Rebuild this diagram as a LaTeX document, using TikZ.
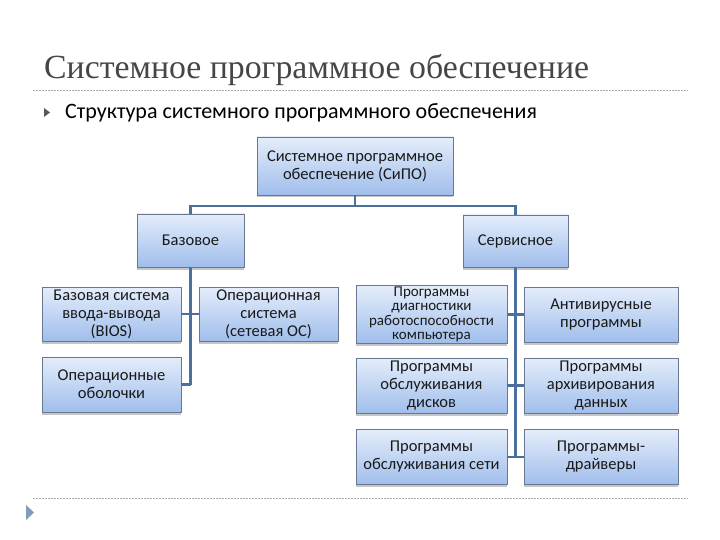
\documentclass[tikz,border=0pt]{standalone}
\usepackage{fontspec}
\setmainfont{Carlito}
\newfontfamily\titlefont{Liberation Serif}
\usetikzlibrary{shadows}
\definecolor{linecol}{RGB}{74,112,160}
\definecolor{boxtop}{RGB}{228,237,250}
\definecolor{boxbot}{RGB}{160,190,236}
\definecolor{boxedge}{RGB}{105,120,145}
\definecolor{titlecol}{RGB}{70,70,70}
\definecolor{rulecol}{RGB}{170,170,170}
\tikzset{
  cbox/.style={draw=boxedge, line width=0.6pt, top color=boxtop, bottom color=boxbot,
    align=center, inner sep=1pt, font=\fontsize{16.5}{18}\selectfont, text=black!90,
    drop shadow={shadow xshift=0pt, shadow yshift=-2.5pt, fill=black!45, opacity=0.5}},
  conn/.style={draw=linecol, line width=2.4pt},
  rulel/.style={draw=rulecol, line width=0.6pt, dash pattern=on 2pt off 1pt}
}
\begin{document}
\begin{tikzpicture}[x=1pt,y=-1pt]
\useasboundingbox (0,0) rectangle (720,540);
\fill[white] (0,0) rectangle (720,540);
% title
\node[anchor=base west, inner sep=0, font=\titlefont\fontsize{33.8}{33.8}\selectfont, text=titlecol] (title) at (44,79) {Системное программное обеспечение};
\draw[rulel] (33,90) -- (688,90);
\fill[black!65] (44,108) -- (50,112.5) -- (44,117) -- cycle;
\node[anchor=base west, inner sep=0, font=\fontsize{22}{22}\selectfont] (sub) at (65,119) {Структура системного программного обеспечения};
\draw[rulel] (33,498) -- (688,498);
\fill[linecol!70] (26,505) -- (34,512.5) -- (26,520) -- cycle;
% boxes
\node[cbox, minimum width=196pt, minimum height=58pt] (root) at (355,166) {Системное программное\\обеспечение (СиПО)};
\node[cbox, minimum width=107pt, minimum height=53pt] (base) at (190.5,240.5) {Базовое};
\node[cbox, minimum width=105pt, minimum height=52pt] (serv) at (515.5,241) {Сервисное};
\node[cbox, minimum width=139pt, minimum height=54pt] (bios) at (111.5,314) {Базовая система\\ввода-вывода\\(BIOS)};
\node[cbox, minimum width=139pt, minimum height=54pt] (os) at (268.5,314) {Операционная\\система\\(сетевая ОС)};
\node[cbox, minimum width=139pt, minimum height=55pt] (shell) at (111.5,384.5) {Операционные\\оболочки};
\node[cbox, minimum width=151pt, minimum height=55pt, font=\fontsize{15}{14.5}\selectfont] (diag) at (431.5,314.5) {Программы\\диагностики\\работоспособности\\компьютера};
\node[cbox, minimum width=151pt, minimum height=55pt] (disk) at (431.5,385.5) {Программы\\обслуживания\\дисков};
\node[cbox, minimum width=151pt, minimum height=55pt] (net) at (431.5,457) {Программы\\обслуживания сети};
\node[cbox, minimum width=154pt, minimum height=55pt] (anti) at (601,314.5) {Антивирусные\\программы};
\node[cbox, minimum width=154pt, minimum height=55pt] (arch) at (601,385.5) {Программы\\архивирования\\данных};
\node[cbox, minimum width=154pt, minimum height=55pt] (drv) at (601,457) {Программы-\\драйверы};
% connectors
\coordinate (j1) at (355,206);
\draw[conn] (root.south) -- (j1);
\draw[conn] (base.north) |- (j1) -| (serv.north);
\draw[conn] (base.south) -- (base.south |- shell.east);
\draw[conn] (bios.east) -- (os.west);
\draw[conn] (shell.east) -- (base.south |- shell.east);
\draw[conn] (serv.south) -- (serv.south |- net.east);
\draw[conn] (diag.east) -- (anti.west);
\draw[conn] (disk.east) -- (arch.west);
\draw[conn] (net.east) -- (drv.west);
\end{tikzpicture}
\end{document}
